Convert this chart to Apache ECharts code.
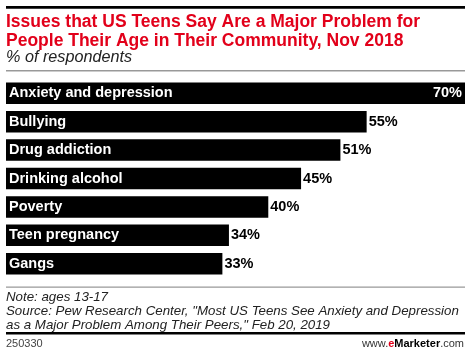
<!DOCTYPE html>
<html><head><meta charset="utf-8">
<script src="https://cdn.jsdelivr.net/npm/echarts@6/dist/echarts.min.js"></script>
<style>html,body{margin:0;padding:0;background:#fff}#c{width:470px;height:357px}</style>
</head><body><div id="c"></div>
<script>
const categories = ["Anxiety and depression","Bullying","Drug addiction","Drinking alcohol","Poverty","Teen pregnancy","Gangs"];
const values = [70,55,51,45,40,34,33];
const titleLines = ["Issues that US Teens Say Are a Major Problem for","People Their Age in Their Community, Nov 2018"];
const subtitle = "% of respondents";
const noteLines = ["Note: ages 13-17","Source: Pew Research Center, \"Most US Teens See Anxiety and Depression","as a Major Problem Among Their Peers,\" Feb 20, 2019"];
const chartId = "250330";

const FONT = "'Liberation Sans', Arial, sans-serif";
const maxV = Math.max(...values);
const chart = echarts.init(document.getElementById('c'), null, {renderer:'canvas'});
chart.setOption({
  animation:false,
  backgroundColor:'#fff',
  grid:{left:6,right:5,top:79,bottom:79,containLabel:false},
  xAxis:{type:'value',min:0,max:70,show:false},
  yAxis:{type:'category',data:categories,inverse:true,show:false},
  series:[
    {type:'bar',data:values,barWidth:21.5,itemStyle:{color:'#000'},
     label:{show:true,position:'insideLeft',distance:3,formatter:p=>p.name,color:'#fff',fontFamily:FONT,fontWeight:'bold',fontSize:14.5}},
    {type:'bar',barGap:'-100%',barWidth:21.5,itemStyle:{color:'rgba(0,0,0,0)'},silent:true,
     data:values.map(v=>({value:v,label:v===maxV?{position:'insideRight',color:'#fff',distance:3}:{position:'right',color:'#000',distance:2}})),
     label:{show:true,formatter:p=>p.value+'%',fontFamily:FONT,fontWeight:'bold',fontSize:14.5}}
  ],
  graphic:[
    {type:'rect',shape:{x:6,y:6,width:459,height:2.8},style:{fill:'#000'}},
    {type:'text',left:6,top:13,style:{text:titleLines.join('\n'),fill:'#e2001a',font:"bold 17.5px "+FONT,lineHeight:18.5}},
    {type:'text',left:6,top:49.5,style:{text:subtitle,fill:'#222',font:"italic 16.2px "+FONT}},
    {type:'rect',shape:{x:6,y:70,width:459,height:1.5},style:{fill:'#999'}},
    {type:'rect',shape:{x:6,y:286.5,width:459,height:1.2},style:{fill:'#999'}},
    {type:'text',left:6,top:290,style:{text:noteLines.join('\n'),fill:'#222',font:"italic 13.3px "+FONT,lineHeight:14.3}},
    {type:'rect',shape:{x:6,y:332,width:459,height:2.4},style:{fill:'#000'}},
    {type:'text',left:6,top:338,style:{text:chartId,fill:'#444',font:"11px "+FONT}},
    {type:'text',right:6,top:338,style:{text:'{a|www.}{b|e}{c|Marketer}{a|.com}',rich:{a:{fill:'#333',font:"11px "+FONT},b:{fill:'#e2001a',font:"bold 11px "+FONT},c:{fill:'#000',font:"bold 11px "+FONT}}}}
  ]
});
</script></body></html>
